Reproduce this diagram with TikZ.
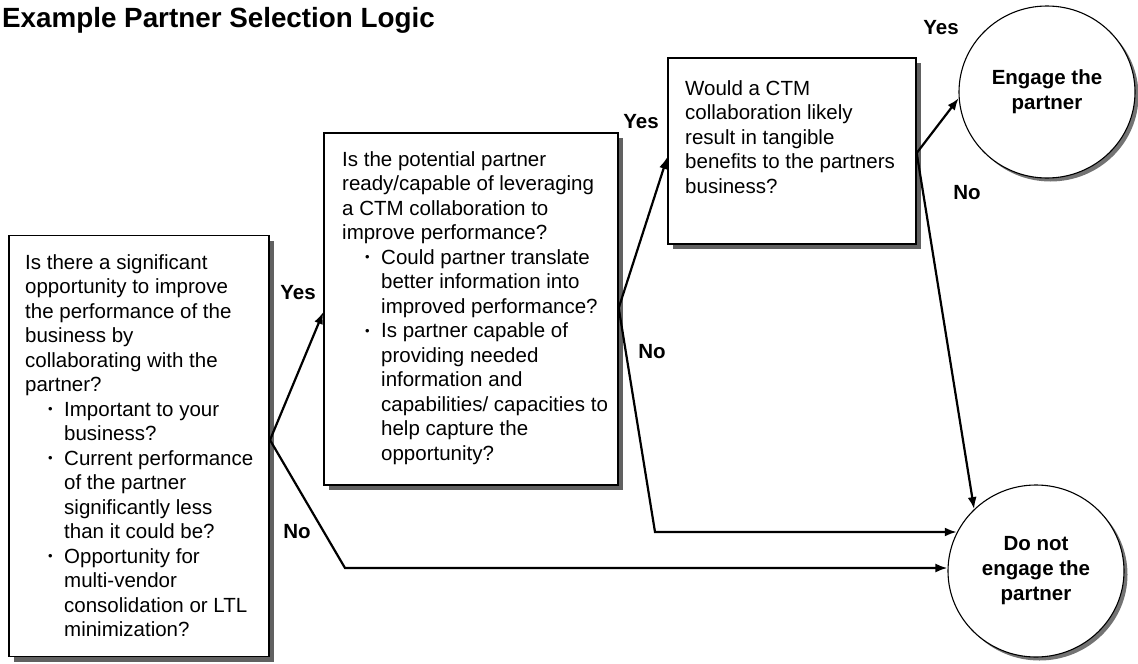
\documentclass[tikz,border=0pt]{standalone}
\usepackage{fontspec}
\setmainfont{Liberation Sans}
\usetikzlibrary{arrows.meta,shapes.geometric,shadows}
\newcommand\smallbul{{\fontsize{13}{13}\selectfont\raisebox{2.5pt}{•}}}
\newcommand\bi{\hspace*{23pt}\makebox[16pt][l]{\smallbul}}
\newcommand\ci{\hspace*{39pt}}
\tikzset{
  qbox/.style={draw=black, line width=1.4pt, fill=white, rectangle, inner sep=0pt,
    general shadow={fill=black!62, shadow xshift=5pt, shadow yshift=-5pt}},
  qtext/.style={anchor=north west, inner sep=0pt, align=left,
    font=\fontsize{20.5}{24.5}\selectfont},
  endnode/.style={draw=black, line width=1.1pt, fill=white, ellipse, inner sep=0pt,
    minimum width=176pt, minimum height=172pt, align=center,
    font=\bfseries\fontsize{20.5}{25}\selectfont,
    general shadow={fill=black!55, shadow xshift=3.5pt, shadow yshift=-3.5pt}},
  lbl/.style={font=\bfseries\fontsize{20.5}{24}\selectfont, inner sep=0pt},
  arr/.style={line width=2.2pt, -{Latex[length=12pt,width=9pt]}}
}
\begin{document}
\begin{tikzpicture}[x=1pt,y=-1pt]
\useasboundingbox (0,0) rectangle (1138,664);
\node[anchor=base west, inner sep=0pt, font=\bfseries\fontsize{27.8}{30}\selectfont] (title) at (2,27) {Example Partner Selection Logic};

% boxes
\node[qbox, minimum width=260pt, minimum height=421pt] (left) at (139,446) {};
\node[qbox, minimum width=294pt, minimum height=352pt] (mid) at (471,309) {};
\node[qbox, minimum width=248pt, minimum height=186pt] (tr) at (792,151) {};

\node[qtext] (leftt) at (25,252) {\strut Is there a significant\\
opportunity to improve\\
the performance of the\\
business by\\
collaborating with the\\
partner?\\
\bi Important to your\\
\ci business?\\
\bi Current performance\\
\ci of the partner\\
\ci significantly less\\
\ci than it could be?\\
\bi Opportunity for\\
\ci multi-vendor\\
\ci consolidation or LTL\\
\ci minimization?};

\node[qtext] (midt) at (342,149) {\strut Is the potential partner\\
ready/capable of leveraging\\
a CTM collaboration to\\
improve performance?\\
\bi Could partner translate\\
\ci better information into\\
\ci improved performance?\\
\bi Is partner capable of\\
\ci providing needed\\
\ci information and\\
\ci capabilities/ capacities to\\
\ci help capture the\\
\ci opportunity?};

\node[qtext] (trt) at (685,78) {\strut Would a CTM\\
collaboration likely\\
result in tangible\\
benefits to the partners\\
business?};

% end circles
\node[endnode] (eng) at (1047,92) {Engage the\\partner};
\node[endnode] (dn) at (1036,571) {Do not\\engage the\\partner};

% connectors
\coordinate (j1) at (270,440);
\coordinate (b1) at (345,568);
\coordinate (b2) at (655,532);
\coordinate (j2) at ([yshift=1pt]mid.east);
\coordinate (j3) at ([yshift=-2pt]tr.east);

\draw[arr] (j1) -- ([yshift=-3pt]mid.west);
\draw[arr] (j1) -- (b1) -- (b1 -| dn.west);
\draw[arr] (j2) -- ([yshift=-6pt]tr.west);
\draw[arr] (j2) -- (b2) -- (b2 -| dn.154);
\draw[arr] (j3) -- (eng.184);
\draw[arr] (j3) -- (dn.135);

% labels
\node[lbl] (y1) at (298,293) {Yes};
\node[lbl] (n1) at (297,532) {No};
\node[lbl] (y2) at (641,122) {Yes};
\node[lbl] (n2) at (652,352) {No};
\node[lbl] (y3) at (941,28) {Yes};
\node[lbl] (n3) at (967,193) {No};
\end{tikzpicture}
\end{document}
